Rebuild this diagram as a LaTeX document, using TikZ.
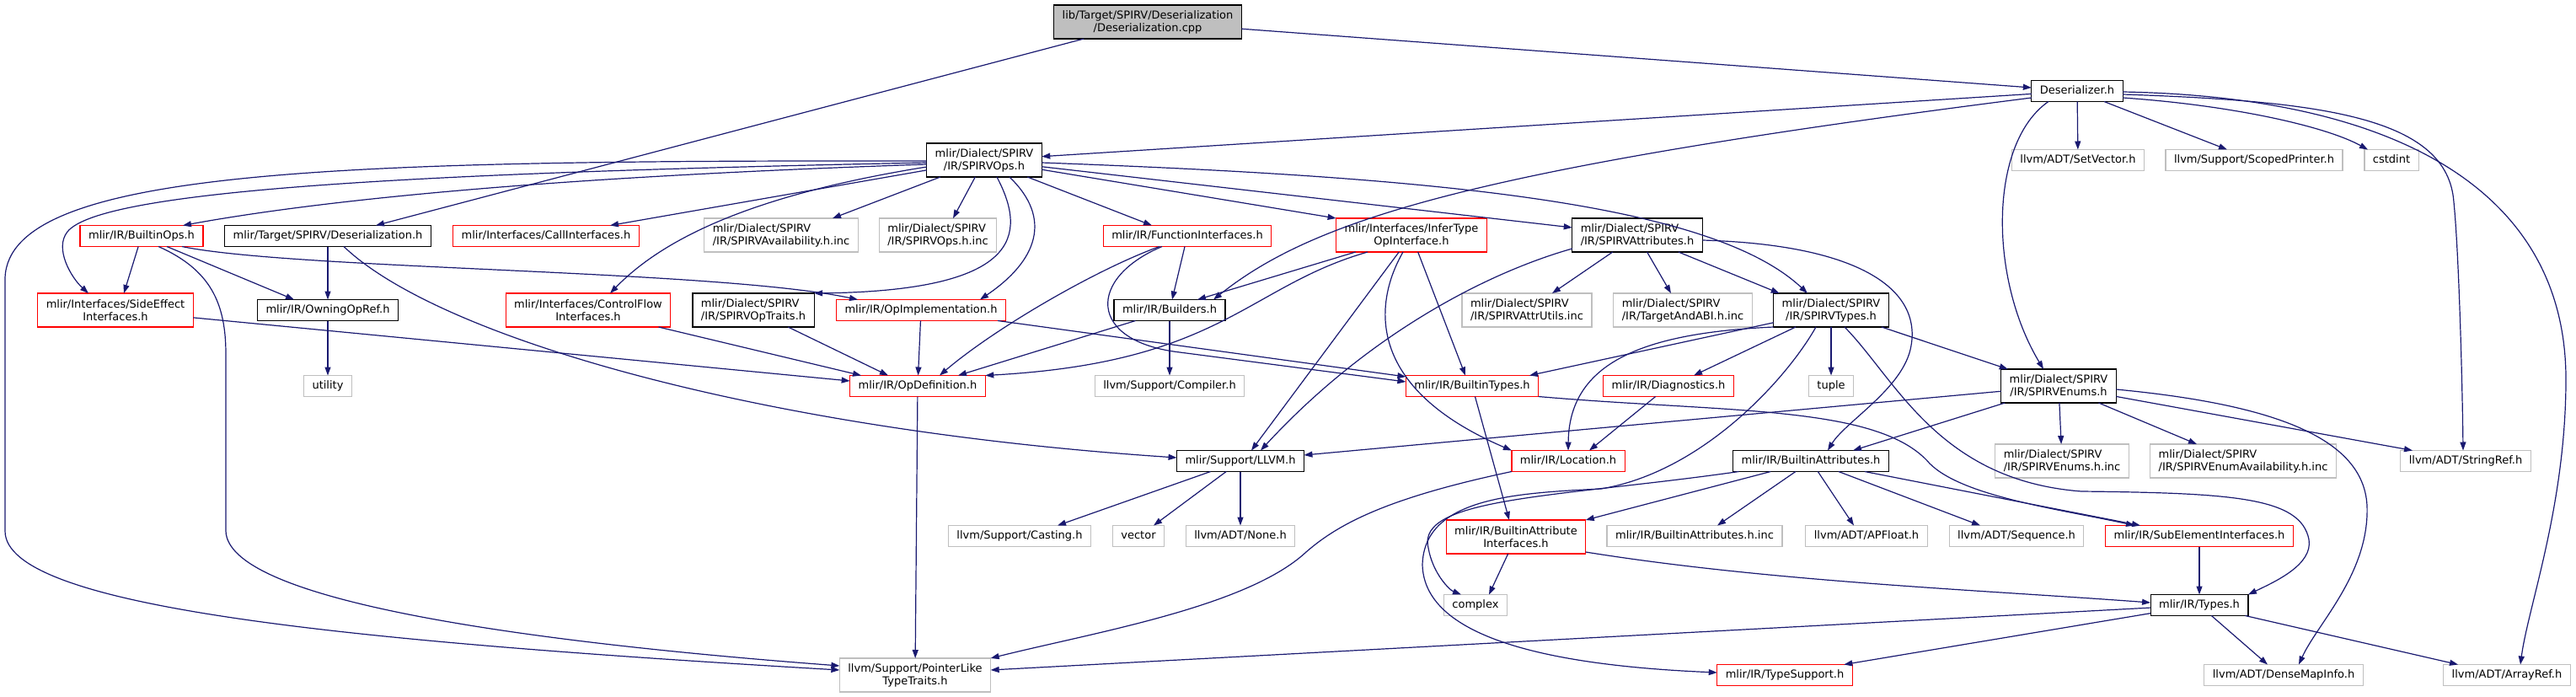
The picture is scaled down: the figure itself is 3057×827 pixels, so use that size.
\documentclass[tikz,border=0pt]{standalone}
\usepackage{fontspec}
\newfontfamily\depfont{DejaVu Sans}
\usetikzlibrary{arrows.meta, calc}
\definecolor{edgeblue}{HTML}{191970}
\definecolor{sysgray}{HTML}{BFBFBF}
\definecolor{rootfill}{HTML}{BFBFBF}
\definecolor{truncred}{HTML}{FF0000}

\begin{document}
\begin{tikzpicture}[
  x=1pt, y=-1pt,
  box/.style={rectangle, fill=white, line width=1.2pt, inner xsep=10pt, inner ysep=3pt,
              outer sep=0pt, font={\depfont\fontsize{13pt}{15pt}\selectfont}},
  doc/.style={box, draw=black},
  trunc/.style={box, draw=truncred},
  sys/.style={box, draw=sysgray},
  one/.style={minimum height=25pt, text height=9.5pt, text depth=3pt},
  two/.style={minimum height=40pt, align=center},
  twol/.style={minimum height=40pt, align=left},
  dep/.style={draw=edgeblue, line width=1.2pt, -{Triangle[length=10pt, width=7pt]}},
]
\useasboundingbox (0,0) rectangle (3057,827);
% ---- files, top to bottom
\node[doc, two, fill=rootfill] (root) at (1362,26) {lib/Target/SPIRV/Deserialization\\/Deserialization.cpp};
\node[doc, one] (deser) at (2465,108) {Deserializer.h};
\node[doc, two] (ops) at (1168,190) {mlir/Dialect/SPIRV\\/IR/SPIRVOps.h};
\node[sys, one] (setvec) at (2466,190) {llvm/ADT/SetVector.h};
\node[sys, one] (scoped) at (2675,190) {llvm/Support/ScopedPrinter.h};
\node[sys, one] (cstdint) at (2838,190) {cstdint};
\node[trunc, one] (bops) at (168,280) {mlir/IR/BuiltinOps.h};
\node[doc, one] (tdeser) at (389,280) {mlir/Target/SPIRV/Deserialization.h};
\node[trunc, one] (call) at (648,280) {mlir/Interfaces/CallInterfaces.h};
\node[sys, twol] (avail) at (927,279) {mlir/Dialect/SPIRV\\/IR/SPIRVAvailability.h.inc};
\node[sys, twol] (opsinc) at (1113,279) {mlir/Dialect/SPIRV\\/IR/SPIRVOps.h.inc};
\node[trunc, one] (func) at (1409,280) {mlir/IR/FunctionInterfaces.h};
\node[trunc, two] (infer) at (1675,279) {mlir/Interfaces/InferType\\OpInterface.h};
\node[doc, twol] (attrs) at (1943,279) {mlir/Dialect/SPIRV\\/IR/SPIRVAttributes.h};
\node[trunc, two] (side) at (137,368) {mlir/Interfaces/SideEffect\\Interfaces.h};
\node[doc, one] (owning) at (389,368) {mlir/IR/OwningOpRef.h};
\node[trunc, two] (cflow) at (698,368) {mlir/Interfaces/ControlFlow\\Interfaces.h};
\node[doc, twol] (traits) at (894,368) {mlir/Dialect/SPIRV\\/IR/SPIRVOpTraits.h};
\node[trunc, one] (opimpl) at (1093,368) {mlir/IR/OpImplementation.h};
\node[doc, one] (builders) at (1388,368) {mlir/IR/Builders.h};
\node[sys, twol] (attrutils) at (1812,368) {mlir/Dialect/SPIRV\\/IR/SPIRVAttrUtils.inc};
\node[sys, twol] (abi) at (1997,368) {mlir/Dialect/SPIRV\\/IR/TargetAndABI.h.inc};
\node[doc, two] (types) at (2173,368) {mlir/Dialect/SPIRV\\/IR/SPIRVTypes.h};
\node[sys, one] (utility) at (389,458) {utility};
\node[trunc, one] (opdef) at (1089,458) {mlir/IR/OpDefinition.h};
\node[sys, one] (compiler) at (1388,458) {llvm/Support/Compiler.h};
\node[trunc, one] (btypes) at (1747,458) {mlir/IR/BuiltinTypes.h};
\node[trunc, one] (diag) at (1980,458) {mlir/IR/Diagnostics.h};
\node[sys, one] (tuple) at (2173,458) {tuple};
\node[doc, two] (enums) at (2443,458) {mlir/Dialect/SPIRV\\/IR/SPIRVEnums.h};
\node[doc, one] (llvm) at (1472,547) {mlir/Support/LLVM.h};
\node[trunc, one] (loc) at (1861,547) {mlir/IR/Location.h};
\node[doc, one] (battrs) at (2149,547) {mlir/IR/BuiltinAttributes.h};
\node[sys, twol] (enumsinc) at (2447,547) {mlir/Dialect/SPIRV\\/IR/SPIRVEnums.h.inc};
\node[sys, twol] (enumavail) at (2662,547) {mlir/Dialect/SPIRV\\/IR/SPIRVEnumAvailability.h.inc};
\node[sys, one] (stringref) at (2926,547) {llvm/ADT/StringRef.h};
\node[sys, one] (casting) at (1210,636) {llvm/Support/Casting.h};
\node[sys, one] (vector) at (1351,636) {vector};
\node[sys, one] (none) at (1472,636) {llvm/ADT/None.h};
\node[trunc, two] (bai) at (1799,637) {mlir/IR/BuiltinAttribute\\Interfaces.h};
\node[sys, one] (battrsinc) at (2011,636) {mlir/IR/BuiltinAttributes.h.inc};
\node[sys, one] (apfloat) at (2215,636) {llvm/ADT/APFloat.h};
\node[sys, one] (sequence) at (2393,636) {llvm/ADT/Sequence.h};
\node[trunc, one] (subel) at (2610,636) {mlir/IR/SubElementInterfaces.h};
\node[sys, one] (complex) at (1751,718) {complex};
\node[doc, one] (irtypes) at (2610,718) {mlir/IR/Types.h};
\node[sys, two] (ptrlike) at (1086,801) {llvm/Support/PointerLike\\TypeTraits.h};
\node[trunc, one] (tsupport) at (2118,801) {mlir/IR/TypeSupport.h};
\node[sys, one] (dense) at (2710,801) {llvm/ADT/DenseMapInfo.h};
\node[sys, one] (arrayref) at (2975,801) {llvm/ADT/ArrayRef.h};
% ---- source file
\draw[dep] (root) -- ($(tdeser.north)+(57,0)$);
\draw[dep] (root) -- (deser);
% ---- Deserializer.h
\draw[dep] (deser) -- (ops);
\draw[dep] ($(deser.west)+(0,8)$) .. controls (1750,200) and (1560,260) .. ($(builders.north)+(52,0)$);
\draw[dep] (deser) -- (setvec);
\draw[dep] (deser) -- (scoped);
\draw[dep] ($(deser.east)+(0,8)$) .. controls (2650,125) and (2760,150) .. ($(cstdint.north)+(-28,0)$);
\draw[dep] ($(deser.east)+(0,4)$) .. controls (2760,120) and (2905,140) .. (2912,240) .. controls (2918,300) and (2922,450) .. ($(stringref.north)+(-3,0)$);
\draw[dep] ($(deser.east)+(0,1)$) .. controls (2850,115) and (3045,230) .. (3045,450) .. controls (3045,600) and (3000,720) .. ($(arrayref.north)+(16,0)$);
\draw[dep] ($(deser.south west)+(20,0)$) .. controls (2360,170) and (2360,330) .. ($(enums.north)+(-18,0)$);
% ---- SPIRVOps.h
\draw[dep] ($(ops.west)+(0,5)$) .. controls (800,205) and (450,225) .. ($(bops.north)+(49,0)$);
\draw[dep] ($(ops.west)+(0,3)$) .. controls (500,205) and (120,225) .. (80,275) .. controls (64,295) and (85,330) .. ($(side.north)+(-32,0)$);
\draw[dep] ($(ops.west)+(0,1)$) .. controls (400,190) and (10,200) .. (6,330) -- (6,630) .. controls (6,720) and (400,760) .. ($(ptrlike.west)+(0,-6)$);
\draw[dep] (ops) -- ($(call.north)+(76,0)$);
\draw[dep] ($(ops.west)+(0,8)$) .. controls (900,230) and (790,280) .. ($(cflow.north)+(26,0)$);
\draw[dep] (ops) -- ($(avail.north)+(61,0)$);
\draw[dep] (ops) -- ($(opsinc.north)+(18,0)$);
\draw[dep] ($(ops.south)+(15,0)$) .. controls (1220,280) and (1210,345) .. (traits.north east);
\draw[dep] ($(ops.south)+(30,0)$) .. controls (1250,260) and (1230,310) .. ($(opimpl.north)+(70,0)$);
\draw[dep] (ops) -- ($(func.north)+(-42,0)$);
\draw[dep] (ops) -- (infer.north west);
\draw[dep] (ops) -- ($(attrs.west)+(0,-9)$);
\draw[dep] ($(ops.east)+(0,3)$) .. controls (1700,210) and (2030,240) .. ($(types.north)+(-28,0)$);
% ---- BuiltinOps.h
\draw[dep] (bops) -- ($(side.north)+(10,0)$);
\draw[dep] (bops) -- ($(owning.north)+(-40,0)$);
\draw[dep] ($(bops.south)+(20,0)$) .. controls (250,320) and (268,360) .. (268,420) -- (268,630) .. controls (270,710) and (600,760) .. ($(ptrlike.west)+(0,-11)$);
\draw[dep] ($(bops.south east)+(-25,0)$) .. controls (350,320) and (850,320) .. ($(opimpl.north)+(-75,0)$);
% ---- Deserialization.h
\draw[dep] (tdeser) -- (owning);
\draw[dep] ($(tdeser.south)+(19,0)$) .. controls (520,400) and (900,510) .. ($(llvm.west)+(0,-4)$);
\draw[dep] (owning) -- (utility);
% ---- into OpDefinition.h
\draw[dep] (side) -- ($(opdef.west)+(0,-6)$);
\draw[dep] (cflow) -- ($(opdef.north)+(-67,0)$);
\draw[dep] (traits) -- ($(opdef.north)+(-35,0)$);
\draw[dep] (opimpl) -- (opdef);
\draw[dep] (opimpl) -- ($(btypes.west)+(0,-11)$);
% ---- FunctionInterfaces.h, Builders.h
\draw[dep] (func) -- (builders);
\draw[dep] ($(func.south)+(-33,0)$) .. controls (1300,320) and (1180,390) .. ($(opdef.north)+(26,0)$);
\draw[dep] ($(func.south)+(-30,0)$) .. controls (1290,330) and (1290,405) .. (1400,418) -- ($(btypes.west)+(0,-5)$);
\draw[dep] (builders) -- ($(opdef.north)+(48,0)$);
\draw[dep] (builders) -- (compiler);
% ---- InferTypeOpInterface.h
\draw[dep] (infer) -- ($(builders.north)+(33,0)$);
\draw[dep] ($(infer.south)+(-52,0)$) .. controls (1480,340) and (1450,430) .. (opdef.north east);
\draw[dep] (infer) -- ($(llvm.north)+(13,0)$);
\draw[dep] (infer) -- ($(btypes.north)+(-8,0)$);
\draw[dep] ($(infer.south)+(-10,0)$) .. controls (1630,360) and (1620,460) .. (loc.north west);
% ---- SPIRVAttributes.h
\draw[dep] (attrs) -- ($(attrutils.north)+(30,0)$);
\draw[dep] (attrs) -- ($(abi.north)+(-14,0)$);
\draw[dep] (attrs) -- ($(types.north west)+(7,0)$);
\draw[dep] ($(attrs.south west)+(0,-4)$) .. controls (1760,325) and (1620,400) .. ($(llvm.north)+(24,0)$);
\draw[dep] ($(attrs.east)+(0,6)$) .. controls (2200,290) and (2280,340) .. (2268,410) .. controls (2260,460) and (2190,500) .. ($(battrs.north)+(20,0)$);
% ---- SPIRVTypes.h
\draw[dep] (types) -- ($(btypes.north)+(68,0)$);
\draw[dep] (types.south west) .. controls (1950,395) and (1862,430) .. (loc.north);
\draw[dep] (types) -- ($(diag.north)+(30,0)$);
\draw[dep] (types) -- (tuple);
\draw[dep] ($(types.south)+(-18,0)$) .. controls (2120,450) and (2020,560) .. (1900,580) .. controls (1800,585) and (1690,590) .. (1688,670) .. controls (1690,760) and (1850,790) .. ($(tsupport.west)+(0,-3)$);
\draw[dep] ($(types.south)+(16,0)$) .. controls (2250,450) and (2300,570) .. (2470,583) .. controls (2650,585) and (2730,590) .. (2740,640) .. controls (2745,670) and (2700,690) .. (irtypes.north east);
\draw[dep] (types) -- ($(enums.north west)+(8,0)$);
% ---- Diagnostics.h, Location.h
\draw[dep] (diag) -- ($(loc.north)+(25,0)$);
\draw[dep] (loc.south west) .. controls (1650,590) and (1590,620) .. (1550,655) .. controls (1480,720) and (1300,750) .. (ptrlike.north east);
% ---- BuiltinTypes.h
\draw[dep] (btypes) -- ($(bai.north)+(-8,0)$);
\draw[dep] (btypes.south east) .. controls (2050,490) and (2230,480) .. (2290,550) .. controls (2330,590) and (2450,605) .. ($(subel.north)+(-77,0)$);
% ---- SPIRVEnums.h
\draw[dep] (enums) -- ($(llvm.east)+(0,-7)$);
\draw[dep] (enums) -- ($(battrs.north)+(50,0)$);
\draw[dep] (enums) -- (enumsinc);
\draw[dep] (enums) -- ($(enumavail.north)+(-55,0)$);
\draw[dep] (enums) -- ($(stringref.north)+(-63,0)$);
\draw[dep] ($(enums.east)+(0,4)$) .. controls (2700,480) and (2805,520) .. (2809,600) .. controls (2812,680) and (2750,740) .. ($(dense.north)+(18,0)$);
% ---- BuiltinAttributes.h
\draw[dep] (battrs) -- (bai.north east);
\draw[dep] ($(battrs.south west)+(7,0)$) .. controls (1850,590) and (1680,590) .. (1695,650) .. controls (1700,680) and (1720,700) .. ($(complex.north)+(-17,0)$);
\draw[dep] (battrs) -- ($(battrsinc.north)+(27,0)$);
\draw[dep] (battrs) -- ($(apfloat.north)+(-15,0)$);
\draw[dep] (battrs) -- ($(sequence.north)+(-43,0)$);
\draw[dep] (battrs) -- ($(subel.north)+(-70,0)$);
% ---- bottom rows
\draw[dep] (bai) -- ($(complex.north)+(16,0)$);
\draw[dep] ($(bai.south east)+(0,-2)$) .. controls (2100,690) and (2350,700) .. ($(irtypes.west)+(0,-3)$);
\draw[dep] (subel) -- (irtypes);
\draw[dep] (irtypes) -- ($(ptrlike.east)+(0,-6)$);
\draw[dep] (irtypes) -- ($(tsupport.north east)+(-10,0)$);
\draw[dep] (irtypes) -- ($(dense.north)+(-19,0)$);
\draw[dep] (irtypes) -- ($(arrayref.north)+(-58,0)$);
\draw[dep] (opdef) -- (ptrlike);
\draw[dep] (llvm) -- ($(casting.north)+(45,0)$);
\draw[dep] (llvm) -- ($(vector.north)+(18,0)$);
\draw[dep] (llvm) -- (none);
\end{tikzpicture}
\end{document}
